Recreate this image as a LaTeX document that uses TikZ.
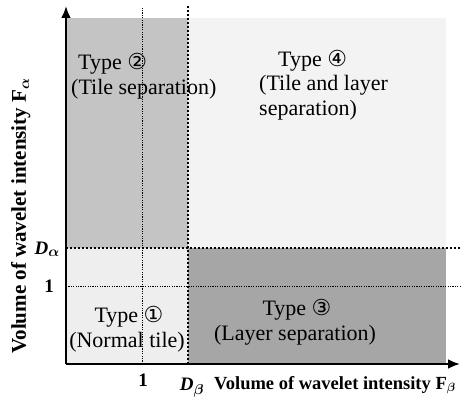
\documentclass[tikz,border=0pt]{standalone}
\usepackage{fontspec}
\setmainfont{Liberation Serif}
\newfontfamily\circfont{DejaVu Sans}
\usepackage{bm}
\usetikzlibrary{arrows.meta}
\definecolor{tilegray}{HTML}{C4C4C4}
\definecolor{layergray}{HTML}{A6A6A6}
\definecolor{normalgray}{HTML}{EEEEEE}
\definecolor{bothgray}{HTML}{F3F3F3}
\newcommand{\circnum}[1]{{\circfont #1}}
\begin{document}
\begin{tikzpicture}[x=1pt, y=1pt,
  typetext/.style={font=\fontsize{22}{25}\selectfont, inner sep=0pt},
  axlabel/.style={font=\fontsize{18.5}{22}\selectfont\bfseries, inner sep=0pt},
  ylabel/.style={font=\fontsize{21}{24}\selectfont\bfseries, inner sep=0pt},
  ticklabel/.style={font=\fontsize{19}{22}\selectfont\bfseries, inner sep=0pt},
  axis/.style={line width=2.6pt, -{Latex[length=12pt,width=10pt]}},
  thickdots/.style={line width=2pt, dash pattern=on 2pt off 2pt},
  thindots/.style={line width=0.8pt, dash pattern=on 1.2pt off 1.2pt}]
  \useasboundingbox (-66,-43) rectangle (399,364);

  % regions
  \fill[tilegray]   (0,116)   rectangle (122,346);
  \fill[bothgray]   (122,116) rectangle (380,346);
  \fill[normalgray] (0,0)     rectangle (122,116);
  \fill[layergray]  (122,0)   rectangle (380,116);

  % guide lines
  \coordinate (o)     at (0,0);
  \coordinate (x1b)   at (76,0);
  \coordinate (x1t)   at (76,356);
  \coordinate (dbb)   at (122,0);
  \coordinate (dbt)   at (122,359);
  \coordinate (y1l)   at (0,78);
  \coordinate (y1r)   at (394,78);
  \coordinate (dal)   at (0,116);
  \coordinate (dar)   at (394,116);
  \coordinate (xend)  at (394,0);
  \coordinate (yend)  at (0,358);

  \draw[thindots]  (x1b)--(x1t)
                   (y1l)--(y1r);
  \draw[thickdots] (dbb)--(dbt)
                   (dal)--(dar);

  \draw[axis] (o)--(xend);
  \draw[axis] (o)--(yend);

  % type labels
  \node[typetext, anchor=base west] (t2a) at (12,294)  {Type \circnum{②}};
  \node[typetext, anchor=base west] (t2b) at (5,269)   {(Tile separation)};
  \node[typetext, anchor=base west] (t4a) at (212,297) {Type \circnum{④}};
  \node[typetext, anchor=base west] (t4b) at (193,273) {(Tile and layer};
  \node[typetext, anchor=base west] (t4c) at (193,248) {separation)};
  \node[typetext, anchor=base]      (t1a) at (63,42)   {Type \circnum{①}};
  \node[typetext, anchor=base]      (t1b) at (61,17)   {(Normal tile)};
  \node[typetext, anchor=base]      (t3a) at (231,49)  {Type \circnum{③}};
  \node[typetext, anchor=base]      (t3b) at (229,24)  {(Layer separation)};

  % ticks and axis labels
  \node[ticklabel, anchor=base east] (da)  at (-6,110)  {\textit{D}$_{\bm{\alpha}}$};
  \node[ticklabel, anchor=base east] (one) at (-12,72)  {1};
  \node[ticklabel, anchor=base]      (onex) at (77,-22) {1};
  \node[ticklabel, anchor=base]      (db)  at (126,-26) {\textit{D}$_{\bm{\beta}}$};
  \node[axlabel, anchor=base west]   (xl)  at (148,-25) {Volume of wavelet intensity F$_{\bm{\beta}}$};
  \node[ylabel, rotate=90, anchor=base] (yl) at (-40,148) {Volume of wavelet intensity F$_{\bm{\alpha}}$};
\end{tikzpicture}
\end{document}
